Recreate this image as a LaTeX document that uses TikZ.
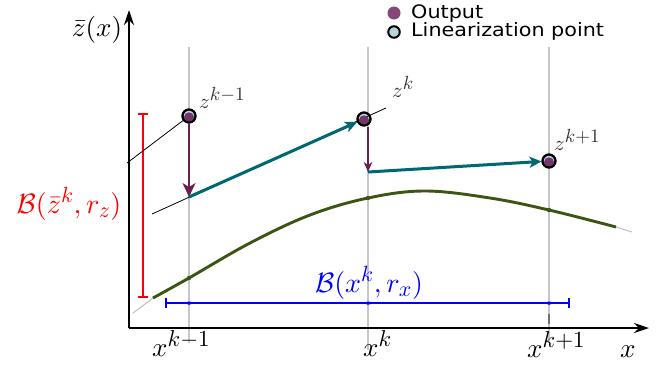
\documentclass[tikz,border=0pt]{standalone}
\usepackage{fontspec}
\newfontfamily\legendfont[FakeStretch=1.12]{DejaVu Sans}
\usetikzlibrary{arrows.meta}
\DeclareFontShape{OT1}{cmr}{m}{n}{<->cmr10}{}
\DeclareFontShape{OML}{cmm}{m}{it}{<->cmmi10}{}
\DeclareFontShape{OMS}{cmsy}{m}{n}{<->cmsy10}{}
\DeclareMathSizes{27}{27}{23}{18}
\DeclareMathSizes{28}{28}{22}{17}
\DeclareMathSizes{21}{21}{19}{15}
\definecolor{purp}{HTML}{6B1F4E}
\definecolor{purpdot}{HTML}{763468}
\definecolor{tealc}{HTML}{006870}
\definecolor{lightb}{HTML}{B5D5D8}
\definecolor{olivec}{HTML}{3A5514}
\newcommand\drawzpt[1]{%
  \fill[purpdot] ([yshift=-1.3pt]#1.center) circle (5pt);
  \draw[black, line width=2pt] (#1.center) circle (6.5pt);}
\begin{document}
\begin{tikzpicture}[x=1pt,y=-1pt,
  guide/.style={draw=black!22, line width=1.2pt},
  axisline/.style={draw=black, line width=1.4pt, -{Stealth[length=15pt,width=10pt,inset=5pt]}},
  tangent/.style={draw=black, line width=0.8pt},
  stepdown/.style={draw=purp, line width=1.7pt},
  update/.style={draw=tealc, line width=3pt, -{Stealth[length=12pt,width=11pt,inset=3pt]}},
  linpt/.style={circle, draw=black, line width=2pt, fill=lightb, minimum size=13pt, inner sep=0pt},
  bigmath/.style={font=\fontsize{27}{30}\selectfont, inner sep=0pt},
  ballmath/.style={font=\fontsize{28}{30}\selectfont, inner sep=0pt},
  smallmath/.style={font=\fontsize{21}{24}\selectfont, text=black!80, inner sep=0pt, anchor=base west},
  legtext/.style={font=\legendfont\fontsize{18.5}{20}\selectfont, anchor=base west, inner sep=0pt},
]
\useasboundingbox (0,0) rectangle (666,365);

% guide lines
\draw[guide] (189,47) -- (189,343);
\draw[guide] (368,47) -- (368,350);
\draw[guide] (549,47) -- (549,343);
\draw[black!55, line width=1.4pt] (549,314) -- (549,324);

% axes
\coordinate (o) at (129,328);
\coordinate (ytip) at (129,10);
\coordinate (xtip) at (649,328);
\draw[axisline] (o) -- (ytip);
\draw[axisline] (o) -- (xtip);

% curve
\draw[black!25, line width=1pt] (133,313) -- (153,298);
\draw[black!25, line width=1pt] (616,227) -- (632,232);
\draw[olivec, line width=2.9pt] plot[smooth, tension=0.6] coordinates
  {(153,298) (189,278) (250,243) (310,215) (368,198) (425,191) (490,198) (549,210) (616,227)};
\fill[olivec] (189,278) circle (2.2pt) (368,198) circle (2.2pt) (549,210) circle (2.2pt);

% red interval
\draw[red, line width=2.3pt] (143,114) -- (143,297);
\draw[red, line width=2pt] (138,114) -- (148,114) (138,297) -- (148,297);
\node[ballmath, text=red, anchor=base] (bz) at (69,213) {$\mathcal{B}(\bar{z}^k,r_z)$};

% blue interval
\draw[blue, line width=1.5pt] (166,303) -- (569,303);
\draw[blue, line width=1.5pt] (166,298) -- (166,308) (569,298) -- (569,308);
\fill[blue] (187.5,301.5) rectangle (190.5,304.5) (366.5,301.5) rectangle (369.5,304.5) (547.5,301.5) rectangle (550.5,304.5);
\node[ballmath, text=blue, anchor=base] (bx) at (369,292) {$\mathcal{B}(x^k,r_x)$};

% points
\node[linpt] (z1) at (189,116) {};
\node[linpt] (z2) at (364,119) {};
\node[linpt] (z3) at (549,161) {};
\coordinate (t1) at (127,163);
\coordinate (t2a) at (152,214);
\coordinate (t2b) at (386,108);
\coordinate (p1) at (189,197);
\coordinate (p2) at (368,172);

% tangent lines
\draw[tangent] (t1) -- (z1);
\draw[tangent] (t2a) -- (t2b);

% steps
\draw[stepdown, -{Stealth[length=14pt,width=13pt,inset=4pt]}] (z1) -- (p1);
\draw[update] (p1) -- (z2);
\draw[stepdown, line width=1.4pt, -{Stealth[length=10pt,width=8.5pt,inset=3pt]}] (z2.south -| p2) -- (p2);
\draw[update] (p2) -- (z3);

\drawzpt{z1}
\drawzpt{z2}
\drawzpt{z3}

% point labels
\node[smallmath] (l1) at (199,108) {$z^{k-1}$};
\node[smallmath] (l2) at (392,97) {$z^{k}$};
\node[smallmath] (l3) at (554,150) {$z^{k+1}$};

% axis labels
\node[bigmath, anchor=base] (ylab) at (97,36.5) {$\bar{z}(x)$};
\node[bigmath, anchor=base west] (xl1) at (152,356) {$x^{k-1}$};
\node[bigmath, anchor=base west] (xl2) at (363,356) {$x^{k}$};
\node[bigmath, anchor=base west] (xl3) at (527,357) {$x^{k+1}$};
\node[bigmath, anchor=base west] (xlab) at (620,357) {$x$};

% legend
\node[circle, fill=purpdot!90!white, minimum size=13pt, inner sep=0pt] (lg1) at (394,13) {};
\node[circle, draw=black, line width=2pt, fill=lightb, minimum size=11.5pt, inner sep=0pt] (lg2) at (394,32) {};
\node[legtext] (lt1) at (411,18.5) {Output};
\node[legtext] (lt2) at (411,36.5) {Linearization point};
\end{tikzpicture}
\end{document}
